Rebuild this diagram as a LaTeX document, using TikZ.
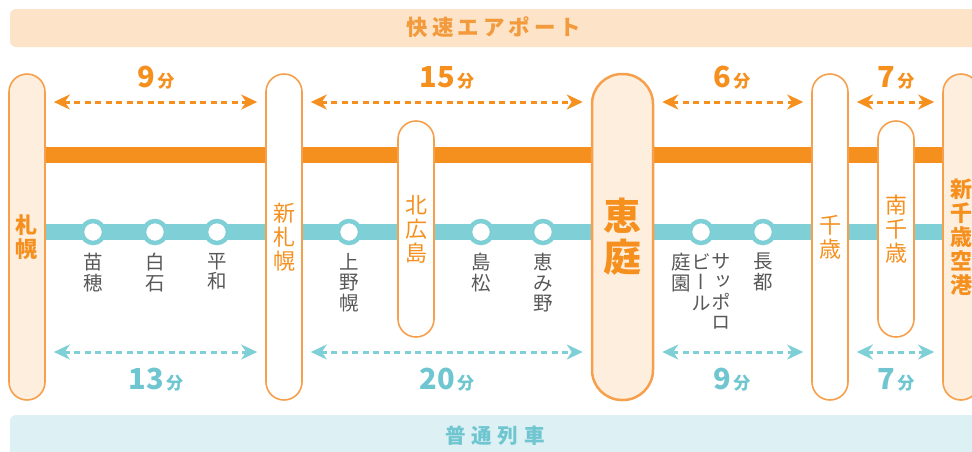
\documentclass[tikz,border=0pt]{standalone}
\usepackage{fontspec}
\setmainfont{Noto Sans CJK JP}
\usetikzlibrary{arrows.meta,backgrounds}
\definecolor{orng}{HTML}{F5901F}
\definecolor{orngline}{HTML}{F6A04D}
\definecolor{orngfill}{HTML}{FEEEDD}
\definecolor{orngban}{HTML}{FDE4C9}
\definecolor{orngtxt}{HTML}{F29A3C}
\definecolor{cyn}{HTML}{7FCFD7}
\definecolor{cyntxt}{HTML}{6FC6D0}
\definecolor{cynban}{HTML}{DDF0F3}
\definecolor{gry}{HTML}{595757}
\begin{document}
\begin{tikzpicture}[x=1pt,y=-1pt,
  pill/.style={draw=orngline,line width=1.6pt,fill=white,rounded corners=18pt,minimum width=36pt,inner sep=0pt,text=orng,font=\fontsize{22}{24}\selectfont,align=center},
  bigpill/.style={pill,fill=orngfill,font=\bfseries\fontsize{22}{24}\selectfont},
  stop/.style={circle,draw=cyn,line width=4.5pt,fill=white,minimum size=22pt,inner sep=0pt},
  slabel/.style={text=gry,font=\fontsize{19.5}{20.5}\selectfont,align=center,inner sep=0pt,anchor=north},
  tipk/.tip={Stealth[length=16pt,width=15pt,inset=5pt]},
  oarrow/.style={draw=orng,line width=3pt,dash pattern=on 6pt off 4.5pt,tipk-tipk,shorten <=8pt,shorten >=8pt},
  carrow/.style={oarrow,draw=cyn},
  olabel/.style={text=orng,font=\bfseries\fontsize{29}{29}\selectfont,inner sep=0pt},
  clabel/.style={olabel,text=cyntxt},
  banner/.style={rounded corners=6pt,inner sep=0pt,minimum width=975pt}]
\useasboundingbox (0,0) rectangle (972,451);
\clip (0,0) rectangle (972,451);
% banners
\node[banner,fill=orngban,minimum height=38pt] (expressban) at (497.5,28) {};
\node[text=orngtxt,font=\bfseries\fontsize{21.5}{21.5}\selectfont,inner sep=0pt] (expresstxt) at (494,27.5) {快\hspace{4pt}速\hspace{4pt}エ\hspace{4pt}ア\hspace{4pt}ポ\hspace{4pt}ー\hspace{4pt}ト};
\node[banner,fill=cynban,minimum height=48pt] (localban) at (497.5,439) {};
\node[text=cyntxt,font=\bfseries\fontsize{20.5}{20.5}\selectfont,inner sep=0pt] (localtxt) at (495,436) {普\hspace{6pt}通\hspace{6pt}列\hspace{6pt}車};
% stations
\node[bigpill,minimum height=326pt] (sapporo) at (27,237) {札\\幌};
\node[pill,minimum height=326pt] (shinsapporo) at (284,237) {新\\札\\幌};
\node[pill,minimum height=216pt] (kitahiroshima) at (416,229) {北\\広\\島};
\node[bigpill,minimum width=61pt,rounded corners=30pt,line width=2.5pt,minimum height=326pt,font=\bfseries\fontsize{38}{41}\selectfont] (eniwa) at (622.5,237) {恵\\庭};
\node[pill,minimum height=326pt] (chitose) at (830,237) {千\\歳};
\node[pill,minimum height=216pt] (minamichitose) at (896,229) {南\\千\\歳};
\node[bigpill,minimum height=326pt] (airport) at (961,237) {新\\千\\歳\\空\\港};
% lines
\coordinate (oy) at (0,155);
\coordinate (cy) at (0,232);
\begin{scope}[on background layer]
\draw[orng,line width=16pt] (sapporo.east |- oy) -- (airport.west |- oy);
\draw[cyn,line width=16pt] (sapporo.east |- cy) -- (airport.west |- cy);
\end{scope}
% local stops
\node[stop] (naebo) at (93,232) {};
\node[stop] (shiroishi) at (155,232) {};
\node[stop] (heiwa) at (217,232) {};
\node[stop] (kaminopporo) at (349,232) {};
\node[stop] (shimamatsu) at (481,232) {};
\node[stop] (eniwa2) at (543,232) {};
\node[stop] (sapporobeer) at (701,232) {};
\node[stop] (osatsu) at (763,232) {};
\node[slabel] (naebol) at (93,253) {苗\\穂};
\node[slabel] (shiroishil) at (155,253) {白\\石};
\node[slabel] (heiwal) at (217,253) {平\\和};
\node[slabel] (kaminopporol) at (349,253) {上\\野\\幌};
\node[slabel] (shimamatsul) at (481,253) {島\\松};
\node[slabel] (eniwa2l) at (543,253) {恵\\み\\野};
\node[slabel] (osatsul) at (763,253) {長\\都};
\node[slabel,font=\fontsize{19.5}{20.5}\selectfont\addfontfeature{RawFeature=+vert}] (sbA) at (721,253) {サ\\ッ\\ポ\\ロ};
\node[slabel,font=\fontsize{19.5}{20.5}\selectfont\addfontfeature{RawFeature=+vert}] (sbB) at (701,253) {ビ\\ー\\ル};
\node[slabel] (sbC) at (681,253) {庭\\園};
% time arrows
\coordinate (topy) at (0,102);
\coordinate (boty) at (0,352);
\draw[oarrow] (sapporo.east |- topy) -- (shinsapporo.west |- topy);
\draw[oarrow] (shinsapporo.east |- topy) -- (eniwa.west |- topy);
\draw[oarrow] (eniwa.east |- topy) -- (chitose.west |- topy);
\draw[oarrow] (chitose.east |- topy) -- (airport.west |- topy);
\draw[carrow] (sapporo.east |- boty) -- (shinsapporo.west |- boty);
\draw[carrow] (shinsapporo.east |- boty) -- (eniwa.west |- boty);
\draw[carrow] (eniwa.east |- boty) -- (chitose.west |- boty);
\draw[carrow] (chitose.east |- boty) -- (airport.west |- boty);
\node[olabel] (t1) at (156,78) {9\hspace{2pt}{\fontsize{17}{17}\selectfont 分}};
\node[olabel] (t2) at (447,78) {15\hspace{2pt}{\fontsize{17}{17}\selectfont 分}};
\node[olabel] (t3) at (732,78) {6\hspace{2pt}{\fontsize{17}{17}\selectfont 分}};
\node[olabel] (t4) at (896,78) {7\hspace{2pt}{\fontsize{17}{17}\selectfont 分}};
\node[clabel] (b1) at (156,380) {13\hspace{2pt}{\fontsize{17}{17}\selectfont 分}};
\node[clabel] (b2) at (447,380) {20\hspace{2pt}{\fontsize{17}{17}\selectfont 分}};
\node[clabel] (b3) at (732,380) {9\hspace{2pt}{\fontsize{17}{17}\selectfont 分}};
\node[clabel] (b4) at (896,380) {7\hspace{2pt}{\fontsize{17}{17}\selectfont 分}};
\end{tikzpicture}
\end{document}
